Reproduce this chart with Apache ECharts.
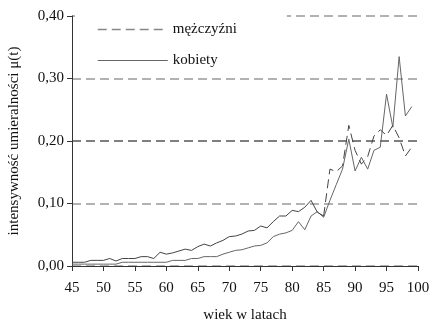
<!DOCTYPE html>
<html>
<head>
<meta charset="utf-8">
<script src="https://cdn.jsdelivr.net/npm/echarts@6/dist/echarts.min.js"></script>
<style>html,body{margin:0;padding:0;background:#fff}#c{width:431px;height:323px}</style>
</head>
<body>
<div id="c"></div>
<script>
// Ages 45..99
const ages = [45,46,47,48,49,50,51,52,53,54,55,56,57,58,59,60,61,62,63,64,65,66,67,68,69,70,71,72,73,74,75,76,77,78,79,80,81,82,83,84,85,86,87,88,89,90,91,92,93,94,95,96,97,98,99];
const men = [0.006,0.006,0.006,0.009,0.009,0.009,0.012,0.008,0.012,0.012,0.012,0.015,0.015,0.012,0.022,0.019,0.021,0.024,0.027,0.025,0.031,0.035,0.032,0.037,0.041,0.047,0.048,0.051,0.056,0.057,0.064,0.061,0.071,0.080,0.080,0.089,0.087,0.094,0.105,0.086,0.080,0.155,0.151,0.160,0.225,0.185,0.163,0.175,0.208,0.218,0.209,0.225,0.205,0.176,0.190];
const women = [0.003,0.003,0.003,0.003,0.003,0.003,0.003,0.003,0.006,0.006,0.006,0.006,0.006,0.006,0.006,0.006,0.009,0.009,0.009,0.012,0.012,0.015,0.015,0.015,0.019,0.022,0.025,0.026,0.029,0.032,0.033,0.037,0.047,0.051,0.053,0.057,0.071,0.058,0.080,0.087,0.078,0.105,0.130,0.155,0.203,0.152,0.174,0.155,0.185,0.190,0.275,0.222,0.335,0.240,0.255];
const yTicks = [0, 0.1, 0.2, 0.3, 0.4];
const xTicks = [45,50,55,60,65,70,75,80,85,90,95,100];
const names = ['mężczyźni', 'kobiety'];

const pairs = (vals) => ages.map((a, i) => [a, vals[i]]);
const menPairs = pairs(men);
const splitAt = ages.indexOf(85);
const menSolid = menPairs.slice(0, splitAt + 1);
const menDashed = menPairs.slice(splitAt);
const womenPairs = pairs(women);

const FONT = "'Liberation Serif','Times New Roman',serif";
const chart = echarts.init(document.getElementById('c'), null, {renderer: 'canvas'});
chart.setOption({
  animation: false,
  backgroundColor: '#fff',
  textStyle: {fontFamily: FONT},
  grid: {left: 72, right: 13, top: 16, bottom: 57, containLabel: false, outerBoundsMode: 'none'},
  legend: {
    orient: 'vertical',
    left: 75, top: 12,
    padding: [10, 50, 5, 22],
    backgroundColor: '#fff',
    itemWidth: 70, itemHeight: 14, itemGap: 16, itemTextGap: 6,
    textStyle: {fontFamily: FONT, fontSize: 15, color: '#111'},
    data: [
      {name: names[0], itemStyle: {opacity: 0}, lineStyle: {type: [9, 5], color: '#888', width: 1.5}},
      {name: names[1], itemStyle: {opacity: 0}, lineStyle: {type: 'solid', color: '#666', width: 1}}
    ]
  },
  xAxis: {
    type: 'value', min: 45, max: 100, interval: 5,
    name: 'wiek w latach', nameLocation: 'middle', nameGap: 42,
    nameTextStyle: {fontFamily: FONT, fontSize: 15, color: '#111'},
    axisLine: {lineStyle: {color: '#333', width: 1}},
    axisTick: {show: true, length: 5, inside: false, lineStyle: {color: '#333'}},
    axisLabel: {fontFamily: FONT, fontSize: 15, color: '#111', margin: 15,
      customValues: xTicks, formatter: v => String(v)},
    splitLine: {show: false}
  },
  yAxis: {
    type: 'value', min: 0, max: 0.4, interval: 0.1,
    name: 'intensywność umieralności μ(t)', nameLocation: 'middle', nameGap: 50,
    nameTextStyle: {fontFamily: FONT, fontSize: 15, color: '#111'},
    axisLine: {show: true, lineStyle: {color: '#333', width: 1}},
    axisTick: {show: true, length: 5, inside: false, lineStyle: {color: '#333'}},
    axisLabel: {fontFamily: FONT, fontSize: 15, color: '#111', margin: 8,
      formatter: v => v.toFixed(2).replace('.', ',')},
    splitLine: {show: true, lineStyle: {type: [9, 5], width: 1.5,
      color: ['#999', '#999', '#555', '#999', '#999']}}
  },
  series: [
    {name: names[0], type: 'line', data: menSolid, symbol: 'none', z: 3,
      itemStyle: {color: '#444'},
      lineStyle: {color: '#444', width: 1, type: 'solid'}},
    {name: names[0], type: 'line', data: menDashed, symbol: 'none', z: 3,
      itemStyle: {color: '#444'},
      lineStyle: {color: '#444', width: 1, type: [9, 5]}},
    {name: names[1], type: 'line', data: womenPairs, symbol: 'none', z: 2,
      itemStyle: {color: '#666'},
      lineStyle: {color: '#666', width: 1}}
  ]
});
</script>
</body>
</html>
